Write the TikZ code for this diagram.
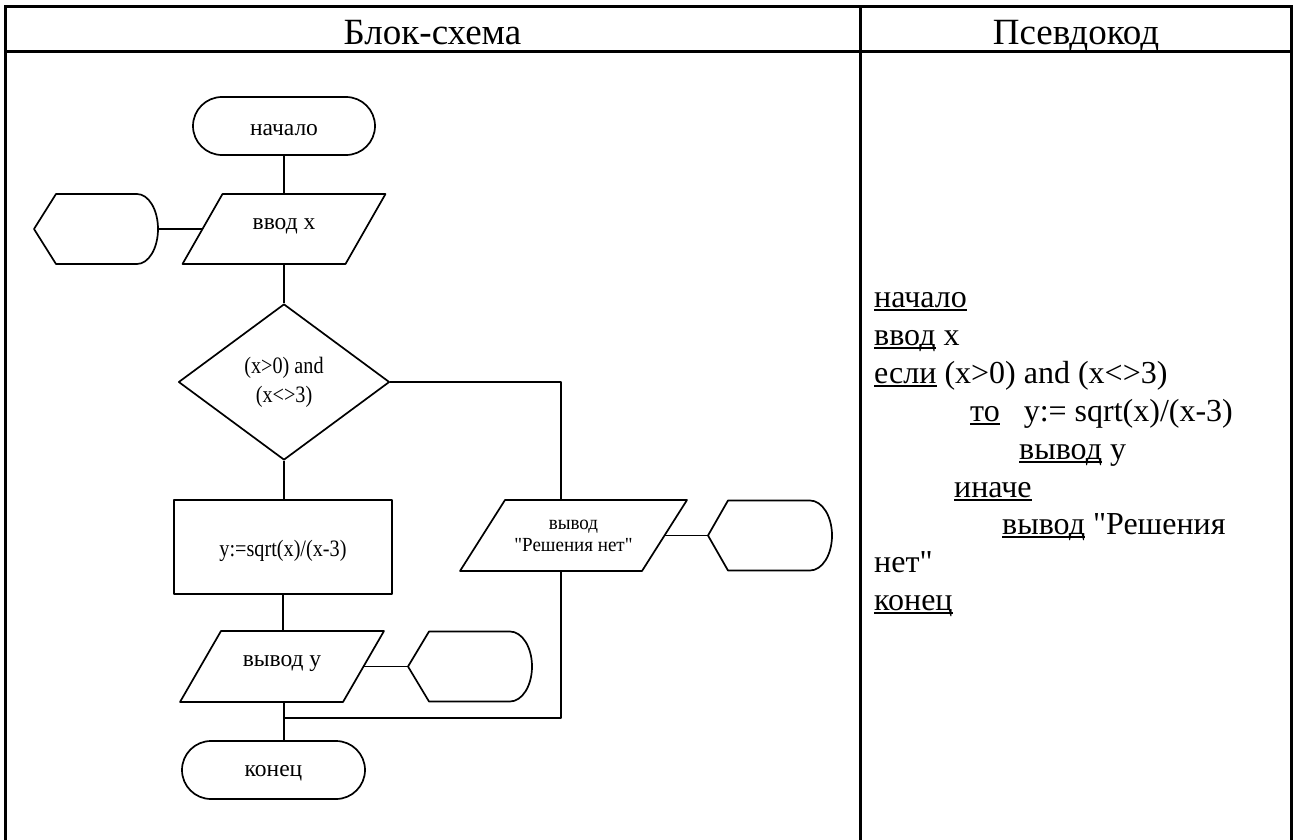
\documentclass[tikz,border=0pt]{standalone}
\usepackage{fontspec}
\setmainfont{Liberation Serif}[Ligatures=TeXOff]
\newfontfamily\narrowfont[FakeStretch=0.86,Ligatures=TeXOff]{Liberation Serif}
\newfontfamily\narrowfontb[FakeStretch=0.95,Ligatures=TeXOff]{Liberation Serif}
\usetikzlibrary{shapes.geometric}
\newcommand\ulword[1]{\sbox0{#1}\rlap{\rule[-4pt]{\wd0}{1.7pt}}\usebox0}
\newcommand\shiftv[2]{\raisebox{#1}[\height][\depth]{#2}}
\tikzset{
  tbl/.style={line width=3pt},
  shp/.style={line width=1.7pt, line join=round},
  chart/.style={font=\fontsize{23.5}{28}\selectfont},
  box/.style={inner sep=0pt, outer sep=0pt, align=center, chart},
  term/.style={box, draw, shp, rounded corners=29pt, minimum width=182pt, minimum height=58pt},
  pc/.style={font=\fontsize{32}{38}\selectfont, inner sep=0pt, anchor=base west},
  hdr/.style={font=\fontsize{37}{40}\selectfont, inner sep=0pt, anchor=base}
}
\begin{document}
\begin{tikzpicture}[x=1pt, y=-1pt]
\useasboundingbox (0,0) rectangle (1295,840);
% table
\draw[tbl] (5.5,840) -- (5.5,6.3) -- (1291.5,6.3) -- (1291.5,840);
\draw[tbl] (5.5,51.3) -- (1291.5,51.3);
\draw[tbl] (860,6.3) -- (860,840);
\node[hdr] (h1) at (432.5,44.5) {Блок-схема};
\node[hdr] (h2) at (1076,44.5) {Псевдокод};

% flowchart nodes
\node[term] (start) at (284,126) {\shiftv{-4pt}{начало}};
\node[box, minimum width=203pt, minimum height=70pt] (in) at (284,229) {\shiftv{3pt}{ввод х}};
\draw[shp] ([xshift=40pt]in.north west) -- (in.north east) -- ([xshift=-40pt]in.south east) -- (in.south west) -- cycle;
\node[box, minimum width=124pt, minimum height=70pt] (d1) at (96,229) {};
\draw[shp] (d1.west) -- ([xshift=22pt]d1.north west) -- ([xshift=-21pt]d1.north east)
  arc[start angle=90, end angle=-90, x radius=21pt, y radius=35pt]
  -- ([xshift=22pt]d1.south west) -- cycle;
\node[diamond, draw, shp, inner sep=0pt, aspect=1.35, minimum width=211pt, minimum height=156pt, chart, align=center] (dec) at (284,382)
  {\narrowfont (x>0) and\\[1pt]\narrowfont (x<>3)};
\node[box, draw, shp, minimum width=218pt, minimum height=94pt] (calc) at (283,547) {\shiftv{-4pt}{\narrowfont y:=sqrt(x)/(x-3)}};
\node[box, minimum width=204pt, minimum height=71pt] (out1) at (282,666.5) {\shiftv{3pt}{вывод у}};
\draw[shp] ([xshift=41pt]out1.north west) -- (out1.north east) -- ([xshift=-41pt]out1.south east) -- (out1.south west) -- cycle;
\node[box, minimum width=124pt, minimum height=70pt] (d2) at (470,666.5) {};
\draw[shp] (d2.west) -- ([xshift=21pt]d2.north west) -- ([xshift=-22pt]d2.north east)
  arc[start angle=90, end angle=-90, x radius=22pt, y radius=35pt]
  -- ([xshift=21pt]d2.south west) -- cycle;
\node[box, minimum width=227pt, minimum height=71pt, font=\fontsize{20}{22}\selectfont] (out2) at (573.5,535.5)
  {\narrowfontb вывод\\\narrowfontb "Решения нет"};
\draw[shp] ([xshift=45pt]out2.north west) -- (out2.north east) -- ([xshift=-45pt]out2.south east) -- (out2.south west) -- cycle;
\node[box, minimum width=124pt, minimum height=70pt] (d3) at (770,535.5) {};
\draw[shp] (d3.west) -- ([xshift=20pt]d3.north west) -- ([xshift=-22pt]d3.north east)
  arc[start angle=90, end angle=-90, x radius=22pt, y radius=35pt]
  -- ([xshift=20pt]d3.south west) -- cycle;
\node[term, minimum width=183pt] (end) at (273.5,770) {\shiftv{-3pt}{конец}};

% connectors
\coordinate (col) at (561,718);
\coordinate (jn) at (284,718);
\draw[shp] (start.south) -- (in.north);
\draw[shp] (in.south) -- (dec.north);
\draw[shp] (dec.south) -- (dec.south |- calc.north);
\draw[shp] (calc.south) -- (calc.south |- out1.north);
\draw[shp] (out1.south -| jn) -- (jn |- end.north);
\draw[shp] (dec.east) -| (col |- out2.north);
\draw[shp] (col |- out2.south) -- (col) -- (jn);
\draw[shp] (d1.east) -- ([xshift=20pt]in.west);
\draw[shp] ([xshift=-20.5pt]out1.east) -- (d2.west);
\draw[shp] ([xshift=-22.5pt]out2.east) -- (d3.west);

% pseudocode
\node[pc] (p1) at (874,307) {\ulword{начало}};
\node[pc] (p2) at (874,345) {\ulword{ввод} x};
\node[pc] (p3) at (874,383) {\ulword{если} (x>0) and (x<>3)};
\node[pc] (p4) at (970,421) {\ulword{то}\hspace{24pt}y:= sqrt(x)/(x-3)};
\node[pc] (p5) at (1019,459) {\ulword{вывод} y};
\node[pc] (p6) at (954,497) {\ulword{иначе}};
\node[pc] (p7) at (1002,534) {\ulword{вывод} "Решения};
\node[pc] (p8) at (874,572) {нет"};
\node[pc] (p9) at (874,610) {\ulword{конец}};
\end{tikzpicture}
\end{document}
